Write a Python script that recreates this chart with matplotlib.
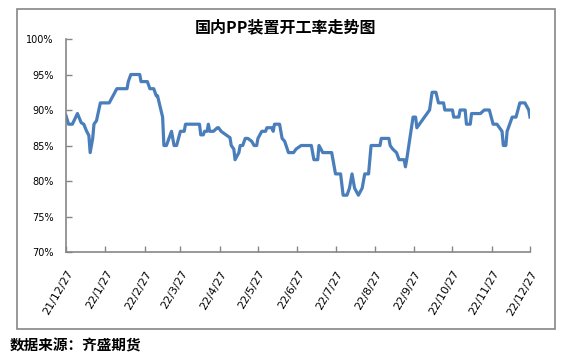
import matplotlib
matplotlib.use("Agg")
import matplotlib.pyplot as plt
import matplotlib.dates as mdates
import pandas as pd
from matplotlib.patches import Rectangle

# turning points of the utilisation line
dates = [
    "2021-12-27", "2021-12-29", "2022-01-01", "2022-01-05", "2022-01-08", "2022-01-10",
    "2022-01-12", "2022-01-14", "2022-01-15", "2022-01-17", "2022-01-18", "2022-01-20",
    "2022-01-23", "2022-01-30", "2022-02-05", "2022-02-13", "2022-02-14", "2022-02-16",
    "2022-02-23", "2022-02-24", "2022-03-01", "2022-03-03", "2022-03-06", "2022-03-08",
    "2022-03-09", "2022-03-13", "2022-03-14", "2022-03-16", "2022-03-20", "2022-03-22",
    "2022-03-24", "2022-03-27", "2022-03-30", "2022-03-31", "2022-04-11", "2022-04-12",
    "2022-04-14", "2022-04-15", "2022-04-17", "2022-04-18", "2022-04-19", "2022-04-22",
    "2022-04-25", "2022-04-26", "2022-04-28", "2022-05-05", "2022-05-06", "2022-05-08",
    "2022-05-09", "2022-05-12", "2022-05-13", "2022-05-15", "2022-05-17", "2022-05-19",
    "2022-05-22", "2022-05-24", "2022-05-26", "2022-05-27", "2022-05-30", "2022-06-02",
    "2022-06-03", "2022-06-07", "2022-06-08", "2022-06-09", "2022-06-13", "2022-06-15",
    "2022-06-17", "2022-06-20", "2022-06-24", "2022-06-26", "2022-06-30", "2022-07-08",
    "2022-07-10", "2022-07-13", "2022-07-14", "2022-07-17", "2022-07-24", "2022-07-27",
    "2022-07-31", "2022-08-02", "2022-08-05", "2022-08-07", "2022-08-09", "2022-08-11",
    "2022-08-14", "2022-08-17", "2022-08-19", "2022-08-22", "2022-08-23", "2022-08-24",
    "2022-08-31", "2022-09-01", "2022-09-07", "2022-09-08", "2022-09-10", "2022-09-13",
    "2022-09-15", "2022-09-19", "2022-09-20", "2022-09-21", "2022-09-26", "2022-09-28",
    "2022-09-29", "2022-10-09", "2022-10-11", "2022-10-14", "2022-10-16", "2022-10-20",
    "2022-10-21", "2022-10-27", "2022-10-28", "2022-11-01", "2022-11-02", "2022-11-06",
    "2022-11-07", "2022-11-10", "2022-11-11", "2022-11-18", "2022-11-21", "2022-11-25",
    "2022-11-28", "2022-12-01", "2022-12-05", "2022-12-06", "2022-12-08", "2022-12-09",
    "2022-12-13", "2022-12-16", "2022-12-19", "2022-12-23", "2022-12-26", "2022-12-27",
]
rate = [
    89.2, 88, 88, 89.5, 88.2, 88,
    87.1, 86.4, 84, 86, 88, 88.5,
    91, 91, 93, 93, 94, 95,
    95, 94, 94, 93, 93, 92,
    92, 89, 85, 85, 87, 85,
    85, 87, 87, 88, 88, 86.5,
    86.5, 87, 87, 88, 87, 87,
    87.5, 87.5, 87, 86.1, 85, 84.5,
    83, 84, 85, 85, 86, 86,
    85.6, 85, 85, 86, 87, 87,
    87.5, 87.5, 87, 88, 88, 86,
    85.6, 84, 84, 84.5, 85, 85,
    83, 83, 85, 84, 84, 81,
    81, 78, 78, 79, 81, 79,
    78, 79, 81, 81, 83, 85,
    85, 86, 86, 85, 84.5, 84,
    83, 83, 82, 83, 89, 89,
    87.5, 90, 92.5, 92.5, 91, 91,
    90, 90, 89, 89, 90, 90,
    88, 88, 89.5, 89.5, 90, 90,
    88, 88, 87, 85, 85, 87,
    89, 89, 91, 91, 90, 89,
]

tick_dates = ["2021-12-27", "2022-01-27", "2022-02-27", "2022-03-27", "2022-04-27",
              "2022-05-27", "2022-06-27", "2022-07-27", "2022-08-27", "2022-09-27",
              "2022-10-27", "2022-11-27", "2022-12-27"]
tick_labels = ["21/12/27", "22/1/27", "22/2/27", "22/3/27", "22/4/27", "22/5/27",
               "22/6/27", "22/7/27", "22/8/27", "22/9/27", "22/10/27", "22/11/27",
               "22/12/27"]
y_ticks = [70, 75, 80, 85, 90, 95, 100]

title = "国内PP装置开工率走势图"
source = "数据来源：齐盛期货"

W, H = 565, 359
fig = plt.figure(figsize=(W / 100, H / 100), dpi=100)
cjk = ["Noto Sans CJK SC", "DejaVu Sans"]
grey = "#868686"

# chart border
fig.patches.append(Rectangle((17 / W, 1 - 329 / H), (555 - 17) / W, (329 - 9) / H,
                             transform=fig.transFigure, fill=False,
                             edgecolor=grey, linewidth=1.2))

ax = fig.add_axes([66 / W, 1 - 252 / H, (530 - 66) / W, (252 - 39) / H])
x = pd.to_datetime(dates)
ax.plot(x, rate, color="#4a7ebb", linewidth=2.3, solid_joinstyle="round")

ax.set_xlim(pd.Timestamp(tick_dates[0]), pd.Timestamp(tick_dates[-1]))
ax.set_ylim(70, 100)
ax.set_xticks(pd.to_datetime(tick_dates))
ax.set_xticklabels(tick_labels, rotation=60, ha="right", va="top",
                   rotation_mode="anchor", fontsize=8)
ax.set_yticks(y_ticks)
ax.set_yticklabels([f"{v}%" for v in y_ticks], fontsize=7)
ax.tick_params(axis="both", direction="in", length=4, color=grey, width=1)
ax.tick_params(axis="x", pad=12)
ax.tick_params(axis="y", pad=9)

for side in ["top", "right"]:
    ax.spines[side].set_visible(False)
for side in ["left", "bottom"]:
    ax.spines[side].set_color(grey)
    ax.spines[side].set_linewidth(1.2)

fig.text(286 / W, 1 - 27 / H, title, ha="center", va="center",
         fontsize=11.5, fontweight="bold", family=cjk)
fig.text(10 / W, 1 - 346 / H, source, ha="left", va="center",
         fontsize=10.5, fontweight="bold", family=cjk)

fig.savefig("out.png", dpi=100)
